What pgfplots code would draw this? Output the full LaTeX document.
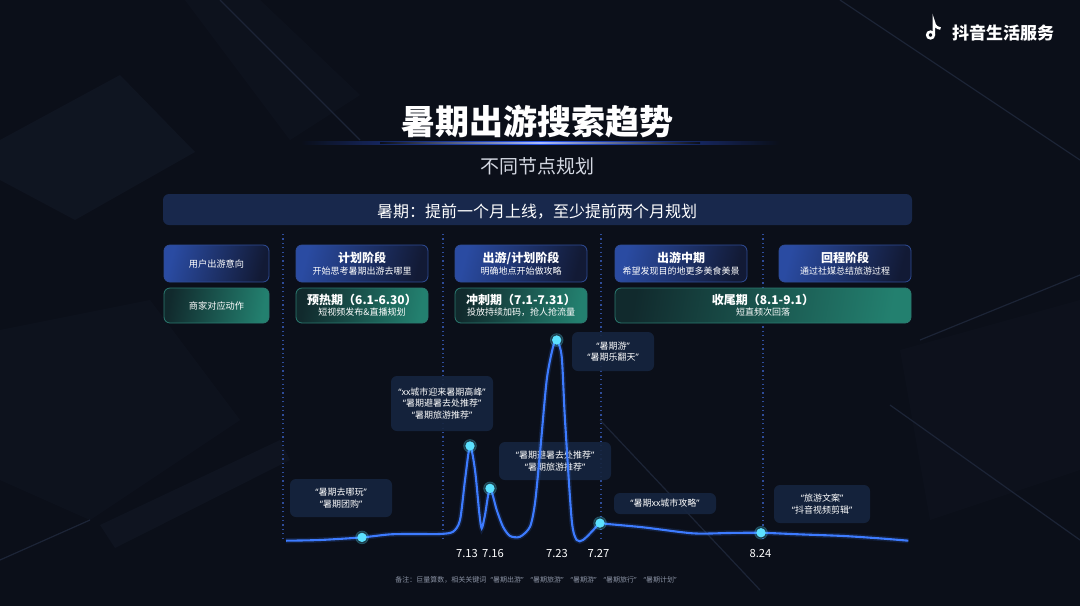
\documentclass[border=0pt]{standalone}
\usepackage{pgfplots}
\usepackage{pgfplotstable}
\pgfplotsset{compat=1.18}
\usepackage{fontspec}
\setmainfont{Noto Sans CJK SC}
\newfontfamily\latinq{Noto Sans}
\newcommand{\oq}{{\latinq “}}
\newcommand{\cq}{{\latinq ”}}
\newcommand{\fsz}[2]{\fontsize{#1pt}{#2pt}\selectfont}

\definecolor{bg}{HTML}{0B0F19}
\definecolor{bgl}{HTML}{131927}
\definecolor{bgline}{HTML}{1C2436}
\definecolor{bannerfill}{HTML}{18284C}
\definecolor{annfill}{HTML}{16253F}
\definecolor{curve}{HTML}{3D7BFF}
\definecolor{marker}{HTML}{5CE1FF}
\definecolor{blueA}{HTML}{2A4BA2}
\definecolor{blueB}{HTML}{121A35}
\definecolor{blueBorder}{HTML}{2F4C96}
\definecolor{tealA}{HTML}{112A2D}
\definecolor{tealB}{HTML}{23806F}
\definecolor{tealBorder}{HTML}{2B7A70}
\definecolor{dotline}{HTML}{2E4C9A}
\definecolor{glow}{HTML}{2C5BFF}
\definecolor{subtxt}{HTML}{D4D8E2}
\definecolor{foot}{HTML}{8A92A3}

\newcommand{\bluebox}[4]{%
  \shade[rounded corners=3pt, left color=blueA, right color=blueB, shading angle=75] (#1,#2) rectangle (#3,#4);
  \draw[rounded corners=3pt, draw=blueBorder, line width=0.4pt] (#1,#2) rectangle (#3,#4);}
\newcommand{\tealbox}[4]{%
  \shade[rounded corners=3pt, left color=tealA, right color=tealB, shading angle=80] (#1,#2) rectangle (#3,#4);
  \draw[rounded corners=3pt, draw=tealBorder, line width=0.4pt] (#1,#2) rectangle (#3,#4);}
\newcommand{\annbox}[4]{%
  \fill[annfill, opacity=0.9, rounded corners=3pt] (#1,#2) rectangle (#3,#4);}
\newcommand{\vsep}[1]{\draw[dotline, line width=0.6pt, dash pattern=on 0.6pt off 1.6pt] (#1,234) -- (#1,540);}

% relative search index (peak on 7.23 = 100); x = position along the timeline
\pgfplotstableread{
x y
286 0.15
320 0.5
362 1.8
390 3.3
415 3.5
440 3.5
453 4.6
460 10.4
465 30.3
470 47.3
475 35.3
479.3 13.9
481.7 6.3
485 13
490 26.2
496.7 15.4
503 7.1
510 2.5
520 2.1
530 7.1
535 18.9
540 43.8
546.7 80.1
553 96.5
556.7 100
561.7 91.7
565 60.2
571.7 10.4
576.7 0.5
583 0.5
591.7 4.6
600 8.9
606.7 8.5
643.3 6.8
693.3 3.8
730 4.0
761 4.1
800 3.3
843.3 2.5
880 1.3
908.3 0.15
}\curvedata

\begin{document}
\begin{tikzpicture}
% ---------- background / layout layer (pixel coordinates) ----------
\begin{axis}[at={(0,0)}, anchor=south west, scale only axis,
  width=540pt, height=303pt, xmin=0, xmax=1080, ymin=0, ymax=606,
  y dir=reverse, axis lines=none, clip=false]
\fill[bg] (0,0) rectangle (1080,606);
% faint decorative plates
\fill[bgl, opacity=0.6] (0,140) -- (120,75) -- (195,152) -- (75,220) -- (0,180) -- cycle;
\fill[bgl, opacity=0.35] (185,0) -- (260,0) -- (360,95) -- (290,140) -- cycle;
\fill[bgl, opacity=0.35] (0,330) -- (150,300) -- (240,420) -- (90,520) -- (0,480) -- cycle;
\fill[bgl, opacity=0.5] (100,525) -- (280,440) -- (290,460) -- (115,548) -- cycle;
\fill[bgl, opacity=0.25] (900,350) -- (1080,300) -- (1080,470) -- (930,520) -- cycle;
\draw[bgline, line width=0.6pt] (220,0) -- (360,140);
\draw[bgline, line width=0.6pt] (600,420) -- (760,590);
\draw[bgline, line width=0.6pt] (840,0) -- (1080,160);
\draw[bgline, line width=0.6pt] (890,405) -- (1080,540);
\draw[bgline, line width=0.6pt] (920,340) -- (1080,275);
\draw[bgline, line width=0.6pt] (0,560) -- (90,520);
% logo
\draw[white, line width=1.3pt] (930.5,35) circle[radius=3.3];
\draw[white, line width=1.3pt] (933.8,35) -- (933.8,22) .. controls (934.5,26) and (937,28) .. (940.5,28.5);
\node[text=white, font=\fsz{8.5}{10}\bfseries] at (1003,33) {抖音生活服务};
% title
\node[text=white, font=\fsz{17}{20}\bfseries] at (537,122) {暑期出游搜索趋势};
\shade[left color=bg, right color=bg, middle color=glow, opacity=0.9] (300,141) rectangle (780,144.5);
\shade[left color=bg, right color=bg, middle color=glow!40!white] (380,142.3) rectangle (700,143.3);
\node[text=subtxt, font=\fsz{9.5}{11}] at (537,166) {不同节点规划};
% banner
\fill[bannerfill, rounded corners=3pt] (163,194) rectangle (912,225);
\node[text=white, font=\fsz{8}{10}] at (537,212) {暑期：提前一个月上线，至少提前两个月规划};
% dotted separators
\vsep{283}
\vsep{443}
\vsep{601}
\vsep{763}
% row 1
\bluebox{164}{245}{269}{282}
\bluebox{296}{245}{428}{282}
\bluebox{455}{245}{587}{282}
\bluebox{615}{245}{747}{282}
\bluebox{779}{245}{911}{282}
\node[text=white, font=\fsz{4.6}{5.5}] at (216.5,263.5) {用户出游意向};
\node[text=white, font=\fsz{6}{7}\bfseries] at (362,258) {计划阶段};
\node[text=white, font=\fsz{4.5}{5.5}] at (362,271) {开始思考暑期出游去哪里};
\node[text=white, font=\fsz{6}{7}\bfseries] at (521,258) {出游/计划阶段};
\node[text=white, font=\fsz{4.5}{5.5}] at (521,271) {明确地点开始做攻略};
\node[text=white, font=\fsz{6}{7}\bfseries] at (681,258) {出游中期};
\node[text=white, font=\fsz{4.5}{5.5}] at (681,271) {希望发现目的地更多美食美景};
\node[text=white, font=\fsz{6}{7}\bfseries] at (845,258) {回程阶段};
\node[text=white, font=\fsz{4.5}{5.5}] at (845,271) {通过社媒总结旅游过程};
% row 2
\tealbox{164}{288}{269}{323}
\tealbox{296}{288}{428}{323}
\tealbox{455}{288}{587}{323}
\tealbox{615}{288}{911}{323}
\node[text=white, font=\fsz{4.6}{5.5}] at (216.5,305.5) {商家对应动作};
\node[text=white, font=\fsz{6}{7}\bfseries] at (362,300) {预热期（6.1-6.30）};
\node[text=white, font=\fsz{4.5}{5.5}] at (362,312) {短视频发布\&直播规划};
\node[text=white, font=\fsz{6}{7}\bfseries] at (521,300) {冲刺期（7.1-7.31）};
\node[text=white, font=\fsz{4.5}{5.5}] at (521,312) {投放持续加码，抢人抢流量};
\node[text=white, font=\fsz{6}{7}\bfseries] at (763,300) {收尾期（8.1-9.1）};
\node[text=white, font=\fsz{4.5}{5.5}] at (763,312) {短直频次回落};
% annotation boxes
\annbox{290}{479}{392}{517}
\annbox{391}{376}{493}{431}
\annbox{499}{442}{611}{480}
\annbox{572}{332}{654}{371}
\annbox{614}{493}{716}{514}
\annbox{774}{485}{870}{523}
\node[text=white, font=\fsz{4.5}{5.6}, align=center] at (341,498) {\oq 暑期去哪玩\cq\\\oq 暑期团购\cq};
\node[text=white, font=\fsz{4.5}{5.6}, align=center] at (442,403.5) {\oq xx城市迎来暑期高峰\cq\\\oq 暑期避暑去处推荐\cq\\\oq 暑期旅游推荐\cq};
\node[text=white, font=\fsz{4.5}{5.6}, align=center] at (555,461) {\oq 暑期避暑去处推荐\cq\\\oq 暑期旅游推荐\cq};
\node[text=white, font=\fsz{4.5}{5.6}, align=center] at (613,351.5) {\oq 暑期游\cq\\\oq 暑期乐翻天\cq};
\node[text=white, font=\fsz{4.5}{5.6}, align=center] at (665,503.5) {\oq 暑期xx城市攻略\cq};
\node[text=white, font=\fsz{4.5}{5.6}, align=center] at (822,504) {\oq 旅游文案\cq\\\oq 抖音视频剪辑\cq};
% footnote
\node[text=foot, font=\fsz{3.5}{4.2}] at (536,580) {备注：巨量算数，相关关键词\hspace{0.6em}\oq 暑期出游\cq\hspace{1em}\oq 暑期旅游\cq\hspace{1em}\oq 暑期游\cq\hspace{1em}\oq 暑期旅行\cq\hspace{1em}\oq 暑期计划\cq};
\end{axis}
% ---------- data layer ----------
\begin{axis}[at={(0,0)}, anchor=south west, scale only axis,
  width=540pt, height=303pt, xmin=0, xmax=1080, ymin=-32.338, ymax=269.154,
  axis x line=middle, axis y line=none, x axis line style={draw=none},
  xtick={467,493,557,598.5,760.5}, xticklabels={7.13,7.16,7.23,7.27,8.24},
  major tick length=0pt, ytick=\empty,
  xticklabel style={text=white, font=\fsz{5.6}{6.5}, anchor=north, yshift=-0.5pt},
  clip=false]
\addplot[curve, line width=2.6pt, opacity=0.15, smooth, tension=0.45] table {\curvedata};
\addplot[curve, line width=1.05pt, smooth, tension=0.45] table {\curvedata};
\addplot[only marks, mark=*, mark size=3.2pt, color=marker, opacity=0.22, mark options={draw=none}] coordinates {(362,1.8) (470,47.3) (490,26.2) (556.7,100) (600,8.9) (761,4.1)};
\addplot[only marks, mark=*, mark size=2.1pt, color=marker, mark options={draw=none}] coordinates {(362,1.8) (470,47.3) (490,26.2) (556.7,100) (600,8.9) (761,4.1)};
\end{axis}
\pgfresetboundingbox
\path (0,0) rectangle (540pt,303pt);
\end{tikzpicture}
\end{document}
